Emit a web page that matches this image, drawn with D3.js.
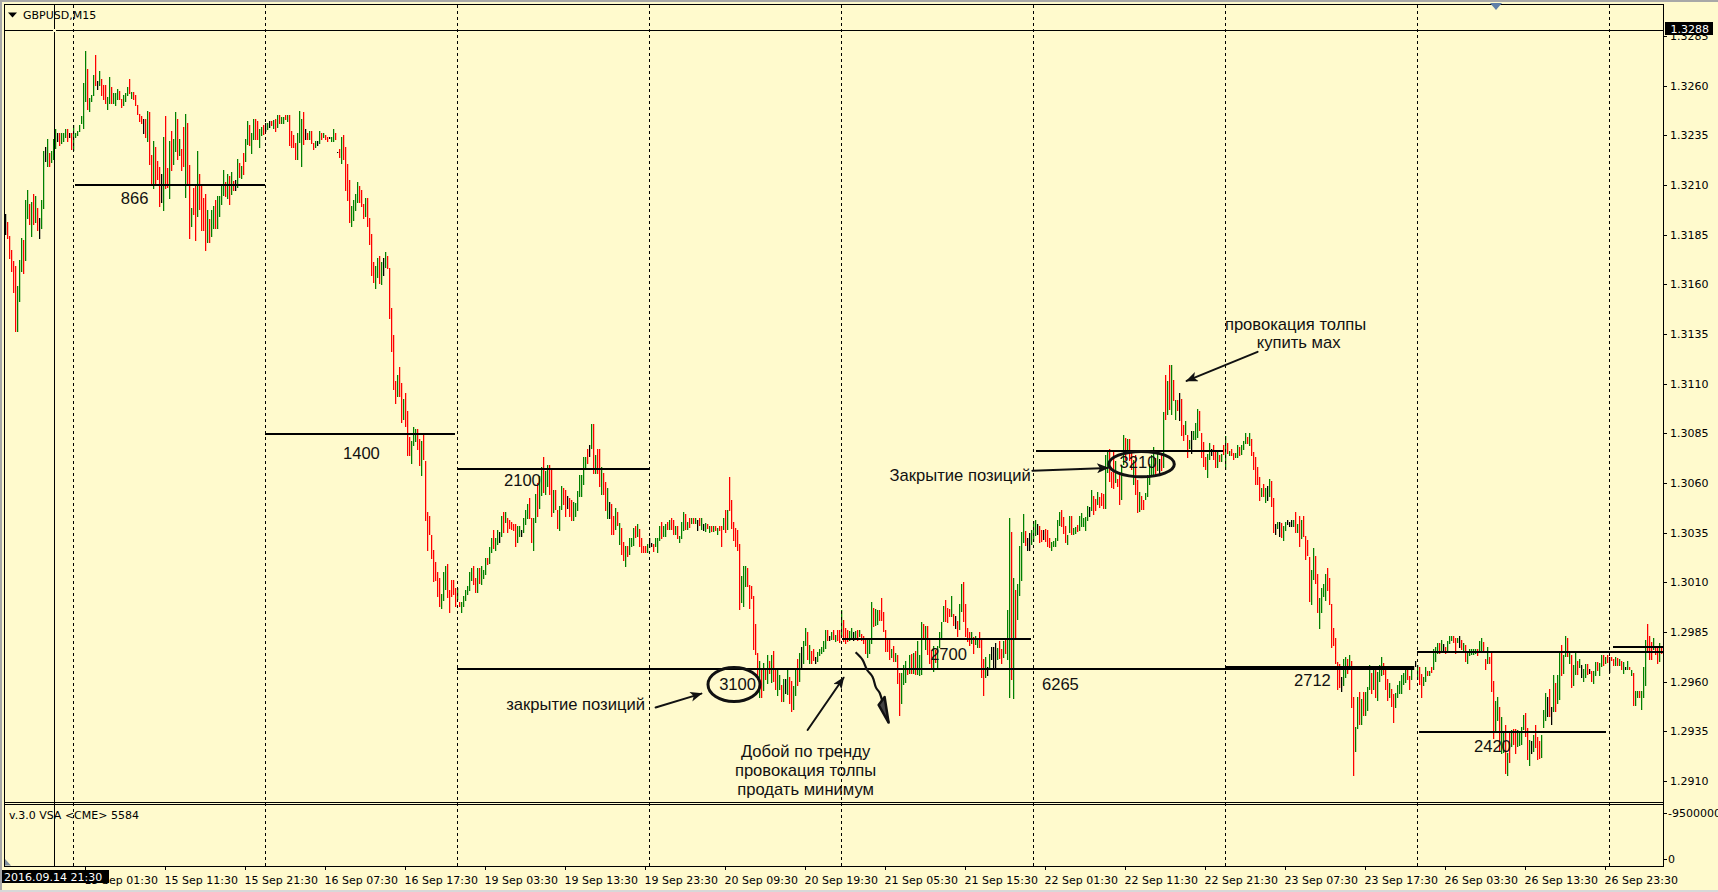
<!DOCTYPE html>
<html><head><meta charset="utf-8">
<script src="https://cdn.jsdelivr.net/npm/d3@7"></script>
<style>
html,body{margin:0;padding:0;background:#fffacd;overflow:hidden}
svg{display:block}
text{fill:#000}
.ui{font-family:"DejaVu Sans",sans-serif;font-size:11px}
.note{font-family:"Liberation Sans",Arial,sans-serif;font-size:16.6px;fill:#111}
</style></head><body>
<svg id="c" width="1718" height="892"></svg>
<script>
// 15-minute GBPUSD bars: [high, low] in pips above 1.0000
const barRanges = [
[3195.5,3185],[3191.5,3183],[3184.5,3173],[3177.5,3166.5],[3171.5,3155.5],[3169,3136],[3159,3136],[3172.5,3151.5],[3183.5,3166.5],[3182.5,3165.5],
[3202.5,3172],[3207.5,3193],[3200.5,3190],[3201.5,3184],[3205.5,3190],[3204.5,3191],[3198.5,3187],[3193.5,3183],[3202.5,3188],[3227,3198],
[3229,3221.5],[3233,3219],[3226,3219],[3227,3221],[3233,3222.5],[3238,3228],[3236,3231.5],[3236,3229.5],[3236,3230.5],[3236,3231.5],
[3238,3233.5],[3238,3231.5],[3236,3233.5],[3236,3227.5],[3240,3227],[3236,3233.5],[3237,3234.5],[3240,3236.5],[3244.5,3240.5],[3261.5,3238.5],
[3277.5,3252],[3268.5,3248],[3254,3247],[3255.5,3252],[3265.5,3255],[3275.5,3260],[3262.5,3258],[3267.5,3260],[3263.5,3255],[3260.5,3253],
[3260.5,3251],[3254.5,3248],[3264.5,3251],[3259.5,3251],[3256.5,3251],[3256.5,3250],[3258.5,3253],[3257.5,3253],[3253.5,3249],[3255.5,3250],
[3256.5,3252],[3259.5,3255],[3263.5,3256],[3257,3253.5],[3257,3253],[3255.5,3250],[3250.5,3245.5],[3245.5,3241.5],[3244.5,3240.5],[3243,3235.5],
[3243,3233.5],[3247.5,3232],[3246.5,3220],[3225,3210],[3232,3208],[3229,3210],[3222,3212.5],[3219,3199],[3215.5,3201],[3234,3197],
[3244.5,3208],[3218.5,3208.5],[3232,3203],[3237,3217],[3233,3220],[3246.5,3226.5],[3243,3222.5],[3233,3224.5],[3228,3217],[3239,3219],
[3245.5,3203],[3241,3210],[3220,3183],[3198.5,3189],[3208.5,3195],[3210,3182],[3227,3194],[3215.5,3197.5],[3210,3187],[3203.5,3187],
[3205.5,3177],[3197.5,3181],[3193,3181],[3197.5,3184],[3199.5,3188],[3202.5,3188],[3204.5,3188],[3204.5,3194],[3210.5,3200],[3217.5,3204.5],
[3211.5,3204],[3215.5,3203],[3214.5,3200],[3216.5,3205],[3212,3207],[3212.5,3207],[3223,3208.5],[3221,3213.5],[3219.5,3213],[3226,3215],
[3233,3221.5],[3242,3230],[3240,3229.5],
[3236,3225.5],[3243,3232.5],[3243,3232.5],[3242,3232.5],[3238,3228.5],[3239,3234.5],[3240,3235],[3241,3236.5],[3241,3237.5],[3242,3238.5],
[3242,3239.5],[3242.5,3238],[3243,3236.5],[3245,3238.5],[3245,3240.5],[3244,3240.5],[3244,3240.5],[3245,3242.5],[3245,3241.5],[3245,3229.5],
[3237,3228.5],[3235,3228.5],[3231,3222.5],[3236,3222.5],[3247.5,3231.5],[3243,3219],[3246.5,3230],[3238,3232.5],[3236,3232.5],[3237,3232.5],
[3237,3230.5],[3231,3227.5],[3232,3228.5],[3232,3229.5],[3237,3230.5],[3236,3232.5],[3236,3233.5],[3235,3232.5],[3234,3231.5],[3234,3233],
[3234,3231.5],[3238,3231.5],[3236,3232.5],[3226.5,3226],[3228,3223.5],[3234,3220.5],[3235,3222.5],[3229,3207],[3220.5,3202],[3212.5,3191],
[3199.5,3189],[3202.5,3192],[3205.5,3197],[3211.5,3201],[3209.5,3201],[3207.5,3199],[3200.5,3193],[3203.5,3194],[3203.5,3189],[3193.5,3180],
[3185.5,3164.5],[3171,3160.5],[3169,3157.5],[3173.5,3163.5],[3174.5,3160.5],[3171,3159.5],[3173.5,3164.5],[3176.5,3168.5],[3174.5,3168],[3168,3142.5],
[3148,3126],[3134.5,3107],[3111.5,3100],[3114.5,3103.5],[3118.5,3103.5],[3110.5,3090.5],[3102.5,3092],[3105.5,3088.5],[3096,3073.5],[3083,3073.5],
[3081,3069.5],[3088,3078.5],[3087,3080.5],[3087,3076.5],[3082,3068.5],[3081,3063.5],[3084,3071.5],[3071,3041],[3045.5,3026],[3043.5,3034],
[3034,3022],[3026.5,3010.5],[3020,3010.5],[3015,3002.5],[3012,2997.5],[3004,2996.5],[3015,3000.5],[3018,3006],[3019,3002],[3006,2994.5],
[3011,3002.5],[3011,3003.5],[3007,2997.5],[3007,3001],[3000,2997.5],[3000,2994.5],[3003,2997.5],[3006,3000.5],[3008,3003.5],[3015,3005.5],
[3017,3010.5],[3018,3008.5],[3012,3004.5],[3017,3004.5],[3017,3009],[3018,3008.5],[3016,3011.5],[3022,3013.5],[3022,3018.5],[3028,3019.5],
[3032.5,3025],[3036.5,3027],[3032.5,3026],[3036.5,3029],[3035.5,3030],[3043.5,3033],[3045.5,3035],[3045.5,3040],[3042.5,3035],[3041.5,3037],
[3040.5,3036.5],[3039.5,3036],[3039.5,3028],[3038.5,3030],[3038.5,3033],[3036.5,3033],[3042.5,3035],[3046.5,3039],[3049.5,3042],[3052.5,3042],
[3042.5,3030],[3042.5,3026],[3054.5,3040],[3060,3043],[3063.5,3047],[3068,3053.5],[3073,3055],[3066,3054],[3069,3058],[3069,3054],
[3066.5,3043],[3056.5,3045],[3056.5,3046.5],[3046.5,3037],[3048.5,3036],[3058.5,3046.5],[3057.5,3049],[3056.5,3043],[3053.5,3047],[3052.5,3043],
[3051.5,3041],[3050.5,3041],[3050,3043],[3056,3046],[3064,3053],[3064,3053],[3073,3059],[3073,3066.5],[3077,3069.5],[3079,3073],
[3089.5,3077],[3089.5,3064.5],[3074,3064.5],[3077,3064.5],[3077,3058],[3068,3054],[3065,3054],[3060.5,3046],[3057.5,3042],[3050.5,3042],
[3049.5,3034],[3043.5,3034],[3047.5,3036.5],[3045.5,3038.5],[3040,3029],[3037.5,3024],[3030.5,3021],[3028.5,3018],[3028.5,3023],[3032.5,3024],
[3032.5,3028],[3037.5,3028.5],[3038.5,3032.5],[3039.5,3033],[3037,3028],[3032.5,3025],[3028.5,3025],[3028.5,3025],[3029.5,3025],[3032.5,3027.5],
[3030,3028],[3029.5,3025.5],[3032.5,3028],[3032.5,3025],[3038.5,3031],[3040.5,3032],[3038.5,3033],[3039.5,3033],[3040.5,3036.5],[3041.5,3036.5],
[3042.5,3036.5],[3041.5,3034],[3038.5,3034],[3038.5,3032],[3033.5,3030],[3040.5,3032],[3045.5,3036],[3044.5,3036.5],[3040.5,3036.5],[3042.5,3037.5],
[3042.5,3039.5],[3042.5,3039.5],[3042.5,3039.5],[3041.5,3036],[3042.5,3038.5],[3042.5,3036.5],[3039.5,3036],[3040,3035.5],[3039.5,3037],[3038.5,3035],
[3038.5,3035.5],[3038.5,3035.5],[3038.5,3036],[3037.5,3034],[3038.5,3036],[3038.5,3028],[3042.5,3036.5],[3046.5,3035],[3046.5,3036.5],[3063,3046],
[3051.5,3037],[3040.5,3031],[3037.5,3028],[3036.5,3026],[3029.5,2996.5],[3013,2999.5],[3018,2997.5],[3018,3007.5],[3017,3007.5],[3008.5,2996.5],
[3008,3001.5],[3003,2976],[2989,2973.5],[2974.5,2961],[2970.5,2952],[2966.5,2952],[2969.5,2955.5],[2966.5,2961],[2973.5,2959],[2970.5,2964],
[2973.5,2959.5],[2975.5,2960],[2966.5,2956],[2966,2953],[2963.5,2956],[2958.5,2950],[2961.5,2950],[2961.5,2954],[2966,2953.5],[2962.5,2949],
[2960.5,2945],[2958,2946],[2966,2953],[2971.5,2958],[2974.5,2960],[2977.5,2967],[2980.5,2969],[2987,2978],[2985,2971],[2978.5,2969],
[2975.5,2969],[2976.5,2970.5],[2972.5,2969],[2975,2970],[2976.5,2973],[2977.5,2974],[2980.5,2975],[2986,2976.5],[2986,2980.5],[2983,2980.5],
[2985,2981],[2986,2981],[2983.5,2980],[2986,2980.5],[2986,2979.5],[2996,2982.5],[2991,2980],[2987,2979],[2986,2980],[2985.5,2980.5],
[2987,2981],[2985,2980.5],[2985.5,2981],[2986,2980.5],[2986,2982.5],[2984,2980.5],[2983,2979],[2981,2974],[2981,2972],[2981,2974],
[3000,2979],[2997,2987.5],[2996.5,2988],[2996,2988.5],[2996,2990.5],[3002,2990.5],[2995,2985],[2986,2975],[2981.5,2975],[2981.5,2971],
[2976.5,2972],[2978,2970],[2974.5,2970],[2973.5,2959],[2964.5,2943],[2964.5,2949],[2968.5,2958.5],[2970.5,2959.5],[2966.5,2963.5],[2973.5,2964],
[2974,2964],[2974.5,2964],[2975.5,2963.5],[2980.5,2963.5],[2973.5,2963],[2990,2963.5],[2989,2981],[2988,2976],[2988,2973.5],[2981,2969],
[2976,2967],[2978,2965],[2976,2969.5],[2978,2967],[2985,2977],[2990,2982],[2998,2990],[3001,2990],[2997,2989.5],[2996.5,2992.5],
[3003,2992.5],[2994,2988],[2993,2986.5],[2990.5,2982.5],[2999,2986],[3009,2995],[3010,2990],[2999,2982.5],[2987,2980],[2985,2978],
[2985,2979],[2982.5,2974],[2983,2978.5],[2982,2977],[2985,2977],[2981,2962],[2971.5,2953],[2972.5,2962],[2967.5,2963],[2974,2966.5],
[2977.5,2971],[2977.5,2966.5],[2979.5,2966.5],[2977,2971],[2980.5,2971.5],[2976.5,2969],[2980.5,2972],[2981,2974],[2996,2971],[3042.5,2952],
[3035.5,2961],[3012,2951],[3006,2981],[3009,2991],[3028.5,3003.5],[3035.5,3011],[3044.5,3030],[3036,3028.5],[3032.5,3026],[3035,3026],
[3036.5,3029],[3041,3030.5],[3041.5,3033.5],[3039.5,3034],[3038.5,3030],[3036.5,3030.5],[3036.5,3031.5],[3037,3030.5],[3036.5,3028],[3032.5,3027.5],
[3030.5,3026],[3031,3028],[3032.5,3028],[3041.5,3031],[3045.5,3038.5],[3046.5,3038],[3043,3034.5],[3038.5,3030],[3034,3029],[3043.5,3035],
[3043.5,3034],[3037.5,3034],[3038,3034.5],[3039,3035.5],[3043.5,3036],[3045,3038],[3042.5,3038],[3043,3036],[3048.5,3041],[3048,3043],
[3056.5,3046],[3053.5,3044],[3052,3046],[3055.5,3049],[3053,3047.5],[3055,3048.5],[3054.5,3047],[3074,3047],[3075.5,3065],[3077,3060.5],
[3065.5,3057.5],[3076,3057],[3071,3060],[3062,3058],[3065,3049],[3069,3051.5],[3084,3069],[3082.5,3071.5],[3082,3075.5],[3082,3071],
[3076.5,3066.5],[3071.5,3059],[3074,3054],[3061.5,3045],[3055.5,3045.5],[3053.5,3046.5],[3051.5,3046.5],[3055,3051.5],[3064,3053],[3069.5,3059],
[3074,3064],[3078,3063],[3072.5,3063.5],[3074.5,3066],[3072,3064],[3074.5,3066],[3095.5,3067.5],[3114.5,3092],[3111.5,3094.5],[3119.5,3097],
[3119.5,3094.5],[3112,3101.5],[3102,3092],[3102,3096.5],[3105.5,3091.5],[3102.5,3084],[3089,3081],[3091,3084],[3084,3072.5],[3081.5,3077],
[3086,3074.5],[3086,3081.5],[3090,3081.5],[3097.5,3083],[3096,3086],[3085,3072.5],[3080.5,3068],[3073,3066.5],[3074.5,3062.5],[3080,3071.5],
[3077,3073.5],[3079,3071.5],[3075.5,3067.5],[3076.5,3067.5],[3074,3070.5],[3074.5,3070.5],[3079,3074],[3083.5,3066.5],[3080,3074.5],[3076,3073.5],
[3077,3073.5],[3075,3071.5],[3075,3072.5],[3079,3072.5],[3078,3073.5],[3079,3074],[3081,3076.5],[3085,3079.5],[3083,3079.5],[3085,3078.5],
[3082,3073.5],[3075.5,3066.5],[3073,3059],[3068,3059],[3063,3051],[3057.5,3053],[3059.5,3053],[3057.5,3050],[3058.5,3051],[3062,3053],
[3061,3048],[3052.5,3035],[3039.5,3034],[3040.5,3037],[3040.5,3033],[3040,3032.5],[3038.5,3031],[3040.5,3036],[3041.5,3039],[3040.5,3038],
[3041.5,3038],[3041.5,3038],[3045.5,3035],[3039.5,3035],[3043.5,3028],[3041.5,3032],[3043.5,3033],[3033.5,3021.5],[3031.5,3023.5],[3023,3000.5],
[3016,2998.5],[3027.5,3011.5],[3023.5,3009.5],[3014,2994.5],[3002,2986.5],[3007,2994.5],[3009,3002.5],[3014,3000.5],[3017,3005.5],[3012,2998.5],
[2999,2977],[2987,2978],[2982,2969],[2970,2956],[2969,2957],[2962.5,2955],[2971.5,2958],[2972.5,2962],[2971.5,2964],[2973.5,2966],
[2970.5,2947],[2952.5,2912.5],[2937,2924.5],[2952.5,2936.5],[2955,2938.5],[2951.5,2938.5],[2955,2943],[2955,2943],[2957.5,2945.5],[2968.5,2956],
[2964.5,2954],[2966,2956],[2967,2952],[2965,2950.5],[2968.5,2960],[2972.5,2963],[2969.5,2963.5],[2966.5,2956],[2961.5,2950.5],[2959.5,2952],
[2956.5,2947.5],[2954,2939.5],[2954.5,2947],[2958.5,2952],[2960.5,2954],[2963.5,2954],[2964.5,2958.5],[2966,2959.5],[2968,2961],[2963,2956],
[2966.5,2961],[2968,2966],[2970.5,2967.5],[2968.5,2961],[2967.5,2958.5],[2964,2952],[2962.5,2958],[2967.5,2960],[2965.5,2963],[2965.5,2963],
[2967.5,2964.5],[2976.5,2966],[2977.5,2970],[2979.5,2974],[2979.5,2974],[2981,2974.5],[2979,2975.5],[2977.5,2974],[2980.5,2975],[2983,2979],
[2983,2980.5],[2983,2979.5],[2982,2974],[2982,2979.5],[2983,2977],[2981,2976],[2979.5,2975],[2978.5,2970],[2975,2969],[2976.5,2973],
[2976.5,2973.5],[2976.5,2973.5],[2976.5,2974],[2976.5,2973],[2980.5,2975],[2982,2974.5],[2980,2975],[2971.5,2966],[2977.5,2969],[2972.5,2969],
[2975.5,2955],[2960.5,2931.5],[2950.5,2935.5],[2952.5,2940.5],[2947.5,2925.5],[2942,2923.5],[2934,2924],[2938,2913.5],[2924,2912.5],[2935,2919],
[2935.5,2927],[2936,2928],[2936,2923.5],[2935.5,2927],[2934.5,2927.5],[2937,2928],[2943,2935.5],[2944,2932],[2936.5,2920.5],[2930.5,2917.5],
[2930,2923.5],[2933,2924.5],[2938,2926.5],[2932,2920.5],[2930,2921],[2933,2921.5],[2945.5,2936.5],[2954.5,2940.5],[2952.5,2942.5],[2956.5,2942.5],
[2947.5,2938.5],[2963.5,2945],[2959.5,2945],[2963.5,2949],[2975,2951],[2978.5,2963],[2973.5,2964],[2983,2972.5],[2982,2972.5],[2975.5,2969],
[2973.5,2957],[2968.5,2958],[2975,2963.5],[2970.5,2963.5],[2971.5,2967],[2968.5,2962],[2966.5,2960],[2969,2962],[2969,2963.5],[2966.5,2964],
[2965.5,2960],[2965.5,2959],[2970,2963],[2970,2965.5],[2969.5,2963],[2973.5,2967.5],[2973.5,2968],[2972.5,2969],[2973.5,2969.5],[2972.5,2964.5],
[2972.5,2970.5],[2971.5,2968],[2972.5,2968],[2972,2968],[2971.5,2968],[2970.5,2966],[2970,2964],[2967.5,2966],[2970.5,2966],[2967.5,2966],
[2966,2963],[2964.5,2948],[2955.5,2948],[2955.5,2952],[2955.5,2952],[2955.5,2946],[2967.5,2952],[2981,2958],[2989,2975.5],[2983,2971],
[2980,2971],[2982,2976],[2978,2973.5],[2978,2969],[2979.5,2970],[2978,2974]
];
// g = up bar, r = down bar, k = doji
const barDirections = (
"krrrrrgggr ggrgrgrkgg kgrgggkrgg grkrgggggg grgggrkgrr rggrgggrrg ggrgrrrrrk rgrrgrrrkg rrgrggrgrr grrgrrgrrr rgrggrgggg rgrgrkgrgr ggr"+
"ggrrggrkgk rgrgrggrgr rrrgggrkrg rrgkgrgrrk ggrkrgrrrr ggggrrrgrr rrggrgkgrr rrrgrrgrrr gggrrgrrrr rrrrrgggrr rrrgrggggg grrgrgggrg"+
"grggkgrgrr rrrggkgggr rggrggrggr rgrrggrrkr rgggggggrk grgrrgrrgk rrgrgrrgrg ggrgrrrrgk krgggrggrg rrgrgggrgr grgkrgkgrg rgrgrrgrgr"+
"rrrrrgggrr rrrrgrgrgr grrggrgkgr rggrgkggrg rrkgggggrk grgrrgrrrg gkgrgrrrgg grggrrrrrr grgrrgggrg rgrgggrgrr rgrggggrrr grkrggrrrr"+
"grggrrrgkg kkkgrrgrgg rgrggggrkk gggkrrkrrr gggggrrrgg rggrgggggk grrgrrrggr rrgrrggrgr rgrrgrrggg ggrgkrgrgr grgrkrrgrg kgggrrrrgg"+
"krrgrgrgrg rrggrgggrg rrrrrgrgkg rrkgkrggkk kgrgrgrrrr ggrrggggrr rrrrrkggrg rrggrgrggg rgrgggrrrg rrggggggrr gkkgrrggrg rgggrgkrgg"+
"grrgkrgrgg gggrggrrgr rrggrggrgr grrggggrrg kgrrrgggkr kgrggrggrg rggrgkggrk rggrggrgrk rrgrgrgkgr grggrgggrr rgrrgr"
).replace(/ /g,"");

const barDirectionColors = {g:"#008000", r:"#ff0000", k:"#000000"};

const priceTicks = [1.3285,1.3260,1.3235,1.3210,1.3185,1.3160,1.3135,1.3110,1.3085,1.3060,1.3035,1.3010,1.2985,1.2960,1.2935,1.2910];
const timeTickBars = [40,80,120,160,200,240,280,320,360,400,440,480,520,560,600,640,680,720,760,800];
const timeTickLabels = ["15 Sep 01:30","15 Sep 11:30","15 Sep 21:30","16 Sep 07:30","16 Sep 17:30","19 Sep 03:30","19 Sep 13:30","19 Sep 23:30","20 Sep 09:30","20 Sep 19:30","21 Sep 05:30","21 Sep 15:30","22 Sep 01:30","22 Sep 11:30","22 Sep 21:30","23 Sep 07:30","23 Sep 17:30","26 Sep 03:30","26 Sep 13:30","26 Sep 23:30"];
const separatorBars = [34,130,226,322,418,514,610,706,802];
const volumeTicks = [-9500000,0];

// horizontal levels: [first bar, last bar, price in pips]
const levels = [[35,130,3210],[130,225,3084.8],[226,322,3067.2],[226,610,2966.6],[418.5,513,2981.7],[515.5,609,3076.3],[610,704.5,2967],[706,829,2975],[707,800.5,2934.7],[804,829,2977.7]];
const thickLevels = [6];

// text notes: [bar, price in pips, text]
const notes = [
[64.8,3203,"866"],[178.2,3074.6,"1400"],[258.7,3061.2,"2100"],[366.3,2958.4,"3100"],[471.8,2973.8,"2700"],[527.7,2958.4,"6265"],[566.5,3070.1,"3210"],[653.7,2960.4,"2712"],[743.7,2927.2,"2420"],
[285.3,2948.3,"закрытие позиций"],[477.6,3063.6,"Закрытие позиций"],
[400.3,2924.7,"Добой по тренду"],[400.3,2915.1,"провокация толпы"],[400.3,2905.8,"продать минимум"],
[645.3,3139.8,"провокация толпы"],[646.8,3130.5,"купить мах"]
];
// arrows: [from bar, from price, to bar, to price]
const arrows = [[325.3,2947,348.2,2954],[513.7,3066.2,551.5,3067.6],[401.3,2935.7,419.3,2962],[626.3,3126,590.8,3111.4]];
const handCurve = [[425.3,2974.8],[428.8,2971],[431,2966],[433.8,2962.4],[435.5,2957],[437.3,2954.4],[439.5,2947],[441.8,2939.4]];
const handHead = [[436.8,2948.3],[439.8,2952.3],[441.8,2939.4]];
// ellipses: [centre bar, centre price]
const circles = [[364.5,2958.6,26,17],[568.3,3069.5,32.7,12.7]];

const svg = d3.select("#c");
const x = d3.scaleLinear().domain([0,829]).range([5,1663]);
const y = d3.scaleLinear().domain([1.2910,1.3260]).range([781,85.67]);
const yp = p => y(1+p/10000);
const yv = d3.scaleLinear().domain([-9500000,0]).range([812.5,859]);

svg.append("defs").append("marker").attr("id","ah").attr("viewBox","0 0 12 10").attr("refX",11).attr("refY",5)
  .attr("markerUnits","userSpaceOnUse").attr("markerWidth",13).attr("markerHeight",10).attr("orient","auto")
  .append("path").attr("d","M0,0L12,5L0,10L3,5Z").attr("fill","#111");

// window chrome
svg.append("rect").attr("width",1718).attr("height",892).attr("fill","#fffacd");
svg.append("rect").attr("width",1718).attr("height",2).attr("fill","#a8a8a8");
svg.append("rect").attr("width",2).attr("height",892).attr("fill","#a8a8a8");
svg.append("rect").attr("y",890).attr("width",1718).attr("height",2).attr("fill","#d8d8d8");

// bars
svg.append("g").selectAll("rect").data(barRanges).join("rect")
  .attr("x",(d,i)=>x(i)).attr("width",1.25)
  .attr("y",d=>Math.round(yp(d[0])))
  .attr("height",d=>Math.max(1,Math.round(yp(d[1])-yp(d[0]))))
  .attr("fill",(d,i)=>barDirectionColors[barDirections[i]]);

// period separators
svg.append("g").attr("shape-rendering","crispEdges").selectAll("line").data(separatorBars).join("line")
  .attr("x1",d=>x(d)+.5).attr("x2",d=>x(d)+.5).attr("y1",5).attr("y2",866)
  .attr("stroke","#000").attr("stroke-dasharray","3,3");

// horizontal levels
svg.append("g").attr("shape-rendering","crispEdges").selectAll("line").data(levels).join("line")
  .attr("x1",d=>x(d[0])).attr("x2",d=>x(d[1])).attr("y1",d=>yp(d[2])).attr("y2",d=>yp(d[2]))
  .attr("stroke","#000").attr("stroke-width",(d,i)=>thickLevels.includes(i)?4:2);

// ellipses
svg.append("g").selectAll("ellipse").data(circles).join("ellipse")
  .attr("cx",d=>x(d[0])).attr("cy",d=>yp(d[1])).attr("rx",d=>d[2]).attr("ry",d=>d[3])
  .attr("fill","none").attr("stroke","#111").attr("stroke-width",3);

// notes
svg.append("g").selectAll("text").data(notes).join("text").attr("class","note")
  .attr("x",d=>x(d[0])).attr("y",d=>yp(d[1])).attr("text-anchor","middle").attr("dominant-baseline","central").text(d=>d[2]);

// arrows
svg.append("g").selectAll("line").data(arrows).join("line")
  .attr("x1",d=>x(d[0])).attr("y1",d=>yp(d[1])).attr("x2",d=>x(d[2])).attr("y2",d=>yp(d[3]))
  .attr("stroke","#111").attr("stroke-width",2).attr("stroke-linecap","round").attr("marker-end","url(#ah)");
svg.append("path").attr("d",d3.line().x(d=>x(d[0])).y(d=>yp(d[1])).curve(d3.curveCatmullRom)(handCurve))
  .attr("fill","none").attr("stroke","#111").attr("stroke-width",2.2);
svg.append("path").attr("d",d3.line().x(d=>x(d[0])).y(d=>yp(d[1]))(handHead)+"Z")
  .attr("fill","#444").attr("stroke","#111").attr("stroke-width",2.5).attr("stroke-linejoin","round");

// pane frame and crosshair
const frame = svg.append("g").attr("shape-rendering","crispEdges").attr("stroke","#000").attr("fill","none");
frame.append("path").attr("d","M4.5,866.5V4.5H1663.5V866.5");
frame.append("path").attr("d","M4.5,802.5H1663.5M4.5,804.5H1663.5");
const crossBar = 24.6, crossPrice = 1.3288;
const crossX = Math.round(x(crossBar))+.5, crossY = Math.round(y(crossPrice))+.5;
frame.append("path").attr("d",`M4.5,${crossY}H1663.5`);
frame.append("path").attr("d",`M${crossX},5V866`);
svg.append("rect").attr("x",crossX-1.5).attr("y",crossY-1.5).attr("width",3).attr("height",3).attr("fill","#fffacd");

// axes
const axR = svg.append("g").attr("class","ui").attr("transform","translate(1663,0)")
  .call(d3.axisRight(y).tickValues(priceTicks).tickFormat(d3.format(".4f")).tickSize(4).tickPadding(3));
axR.select(".domain").remove();
const axV = svg.append("g").attr("class","ui").attr("transform","translate(1663,0)")
  .call(d3.axisRight(yv).tickValues(volumeTicks).tickFormat(v=>String(v)).tickSize(4).tickPadding(1));
axV.select(".domain").remove();
const axB = svg.append("g").attr("class","ui").attr("transform","translate(0,866)")
  .call(d3.axisBottom(x).tickValues(timeTickBars).tickFormat((d,i)=>timeTickLabels[i]).tickSize(4).tickPadding(5));
axB.select(".domain").attr("d","M4,0.5H1664");
axB.selectAll("text").attr("text-anchor","start").attr("dx","-1px").attr("dy","0.8em");
svg.selectAll(".ui text").style("font-size","11px").style("font-family",'"DejaVu Sans",sans-serif');
svg.selectAll(".ui .tick line").attr("shape-rendering","crispEdges");

// chart title and indicator caption
svg.append("path").attr("d","M8,12.5H17L12.5,17.5Z").attr("fill","#000");
svg.append("text").attr("class","ui").attr("x",23).attr("y",18.5).text("GBPUSD,M15");
svg.append("text").attr("class","ui").attr("x",9).attr("y",819).text("v.3.0 VSA <CME> 5584");

// crosshair read-outs
svg.append("rect").attr("x",1665).attr("y",22).attr("width",48).attr("height",13).attr("fill","#000");
svg.append("text").attr("class","ui").attr("x",1670.5).attr("y",33).style("fill","#fff").text("1.3288");
svg.append("rect").attr("x",2).attr("y",870).attr("width",107).attr("height",13).attr("fill","#000");
svg.append("text").attr("class","ui").attr("x",4).attr("y",881).style("fill","#fff").text("2016.09.14 21:30");

// small markers
svg.append("path").attr("d","M1490,3H1502L1496,10Z").attr("fill","#5f7fa8");
svg.append("path").attr("d","M5,859L11,865.5H5Z").attr("fill","#8090a0");
</script>
</body></html>
